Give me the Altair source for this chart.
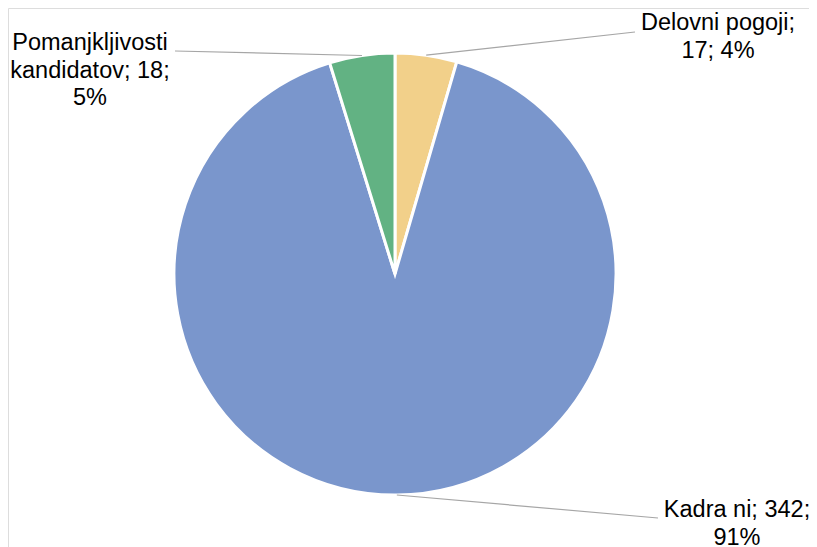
import math
import altair as alt
import pandas as pd

categories = ["Delovni pogoji", "Kadra ni", "Pomanjkljivosti kandidatov"]
values = [17, 342, 18]
percents = [4, 91, 5]
colors = ["#F2D08A", "#7A96CC", "#62B283"]

# label text, wrapped like the reference
label_lines = [
    ["Delovni pogoji;", "17; 4%"],
    ["Kadra ni; 342;", "91%"],
    ["Pomanjkljivosti", "kandidatov; 18;", "5%"],
]

# layout (pixels inside the plot area)
CX, CY, R = 387, 266, 221
label_pos = [(710, 15), (729, 502), (82, 35)]
leader_end = [(627, 24), (650, 510), (167, 43)]

total = sum(values)
rows = []
cum = 0
for i, (c, v) in enumerate(zip(categories, values)):
    mid = (cum + v / 2) / total * 2 * math.pi
    cum += v
    sx = CX + R * math.sin(mid)
    sy = CY - R * math.cos(mid)
    rows.append({
        "cat": c, "value": v, "order": i,
        "label": "\n".join(label_lines[i]),
        "lx": label_pos[i][0], "ly": label_pos[i][1],
        "sx": sx, "sy": sy,
        "ex": leader_end[i][0], "ey": leader_end[i][1],
    })
df = pd.DataFrame(rows)

base = alt.Chart(df)

pie = base.mark_arc(stroke="white", strokeWidth=3, radius=R).encode(
    theta=alt.Theta("value:Q", stack=True),
    order=alt.Order("order:Q"),
    color=alt.Color("cat:N", scale=alt.Scale(domain=categories, range=colors), legend=None),
    x=alt.value(CX),
    y=alt.value(CY),
)

leaders = base.mark_rule(color="#A6A6A6", strokeWidth=1.2).encode(
    x=alt.X("sx:Q", scale=None),
    y=alt.Y("sy:Q", scale=None),
    x2="ex:Q",
    y2="ey:Q",
)

labels = base.mark_text(
    font="Liberation Sans", fontSize=23.5, lineBreak="\n", lineHeight=27.5,
    align="center", baseline="middle", color="#000000",
).encode(
    x=alt.X("lx:Q", scale=None),
    y=alt.Y("ly:Q", scale=None),
    text="label:N",
)

chart = alt.layer(pie, leaders, labels).properties(
    width=801, height=540, padding=0, autosize="none"
).configure_view(stroke=None).configure(background="white")

chart.save("out.html", embed_options={"renderer": "svg", "actions": False})
